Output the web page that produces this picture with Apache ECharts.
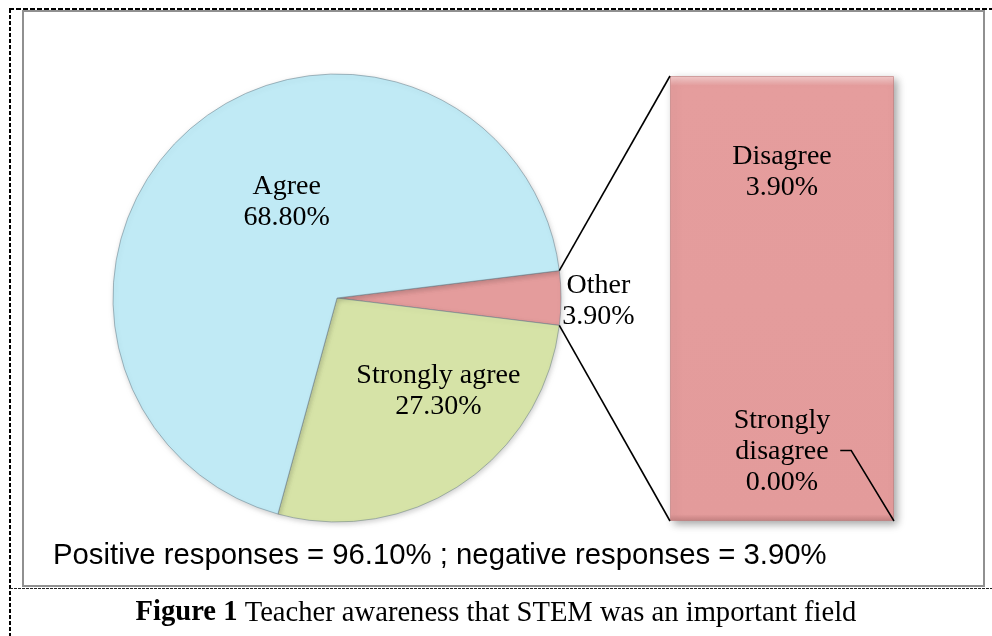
<!DOCTYPE html>
<html><head><meta charset="utf-8">
<script src="https://cdn.jsdelivr.net/npm/echarts@6/dist/echarts.min.js"></script>
<style>html,body{margin:0;padding:0;background:#fff}#c{width:992px;height:636px}</style>
</head><body><div id="c"></div>
<script>
// ---- data ----
const pieNames = ['Other', 'Strongly agree', 'Agree'];
const pieValues = [3.9, 27.3, 68.8];
const barNames = ['Strongly disagree', 'Disagree'];
const barValues = [0.0, 3.9];
const noteText = 'Positive responses = 96.10% ; negative responses = 3.90%';
const captionBold = 'Figure 1';
const captionRest = ' Teacher awareness that STEM was an important field';

// ---- styles ----
const pieColors = ['#E49C9C', '#D6E3A7', '#C0EAF5'];
const barColor = '#E59D9D';
const serif = '"Liberation Serif", "Times New Roman", serif';
const sans = '"Liberation Sans", Arial, sans-serif';

const pieTotal = pieValues.reduce((a, b) => a + b, 0);
const barTotal = barValues.reduce((a, b) => a + b, 0);
const pct = v => v.toFixed(2) + '%';

const chart = echarts.init(document.getElementById('c'), null, {renderer: 'canvas'});

// label nudges relative to the mid-radius point of each slice
const labelShift = {1: [39, 0], 2: [23, -11]};
let sdLabel = null;

chart.setOption({
  animation: false,
  backgroundColor: '#fff',
  grid: {left: 670, top: 76, width: 224, height: 445},
  xAxis: {type: 'category', data: ['Other'], show: false},
  yAxis: {type: 'value', min: 0, max: barTotal, show: false},
  series: [
    {
      type: 'pie',
      center: [337, 298],
      radius: 224,
      startAngle: pieValues[0] / pieTotal * 180,
      clockwise: true,
      avoidLabelOverlap: false,
      data: pieNames.map((n, i) => ({name: n, value: pieValues[i], itemStyle: {color: pieColors[i]}})),
      itemStyle: {borderColor: 'rgba(110,130,140,0.55)', borderWidth: 1, shadowBlur: 5, shadowColor: 'rgba(0,0,0,0.18)', shadowOffsetX: 1, shadowOffsetY: 2},
      label: {
        show: true, position: 'inside',
        formatter: p => p.name + '\n' + pct(p.value),
        fontFamily: serif, fontSize: 28, lineHeight: 31, color: '#000', align: 'center'
      },
      labelLine: {show: false},
      labelLayout: function (p) {
        if (p.dataIndex === 0) {
          return {x: p.rect.x + p.rect.width + 37, y: p.rect.y + p.rect.height / 2 + 3, align: 'center', verticalAlign: 'middle'};
        }
        const L = chart.getModel().getSeriesByIndex(0).getData().getItemLayout(p.dataIndex);
        const mid = (L.startAngle + L.endAngle) / 2, rr = (L.r + (L.r0 || 0)) / 2;
        const s = labelShift[p.dataIndex];
        return {x: L.cx + rr * Math.cos(mid) + s[0], y: L.cy + rr * Math.sin(mid) + s[1], align: 'center', verticalAlign: 'middle'};
      },
      emphasis: {disabled: true}
    },
    {
      type: 'bar', name: barNames[0], stack: 'rest', data: [barValues[0]],
      barWidth: '100%', barCategoryGap: '0%',
      itemStyle: {color: barColor},
      label: {
        show: true, position: 'top', distance: 23,
        formatter: p => 'Strongly\ndisagree\n' + pct(p.value),
        fontFamily: serif, fontSize: 28, lineHeight: 31, color: '#000', align: 'center'
      },
      labelLayout: function (p) {
        sdLabel = p.labelRect;
        return {};
      },
      z: 3,
      emphasis: {disabled: true}
    },
    {
      type: 'bar', name: barNames[1], stack: 'rest', data: [barValues[1]],
      barWidth: '100%', barCategoryGap: '0%',
      itemStyle: {
        color: {type: 'linear', x: 0, y: 0, x2: 0, y2: 1, colorStops: [
          {offset: 0, color: '#F4CDCD'}, {offset: 0.022, color: '#E59D9D'},
          {offset: 0.985, color: '#E39B9B'}, {offset: 1, color: '#C58282'}]},
        borderColor: 'rgba(190,120,120,0.6)', borderWidth: 1,
        shadowBlur: 8, shadowColor: 'rgba(0,0,0,0.35)', shadowOffsetX: 3, shadowOffsetY: 3
      },
      label: {
        show: true, position: 'insideTop', distance: 65,
        formatter: p => p.seriesName + '\n' + pct(p.value),
        fontFamily: serif, fontSize: 28, lineHeight: 31, color: '#000', align: 'center'
      },
      z: 2,
      emphasis: {disabled: true}
    }
  ],
  graphic: [
    {id: 'frame', type: 'rect', z: -1, shape: {x: 23, y: 11, width: 961, height: 575}, style: {fill: 'none', stroke: '#909090', lineWidth: 2}},
    {id: 'dashTop', type: 'line', shape: {x1: 9, y1: 9, x2: 992, y2: 9}, style: {stroke: '#000', lineWidth: 2, lineDash: [5, 2]}},
    {id: 'dashLeft', type: 'line', shape: {x1: 10, y1: 9, x2: 10, y2: 636}, style: {stroke: '#000', lineWidth: 2, lineDash: [4, 2]}},
    {id: 'dashBottom', type: 'line', shape: {x1: 10, y1: 588.5, x2: 992, y2: 588.5}, style: {stroke: '#222', lineWidth: 1, lineDash: [3, 1]}},
    {id: 'note', type: 'text', x: 53, y: 556, style: {text: noteText, font: '29.3px ' + sans, fill: '#000', textVerticalAlign: 'middle'}},
    {id: 'caption', type: 'text', x: 496, y: 613, style: {
      text: '{b|' + captionBold + '}{n|' + captionRest + '}',
      align: 'center', verticalAlign: 'middle',
      rich: {b: {fontFamily: serif, fontSize: 28.6, fontWeight: 'bold', fill: '#000'}, n: {fontFamily: serif, fontSize: 28.6, fill: '#000'}}
    }}
  ]
});

// connector lines from the "Other" slice to the stacked bar, and the leader line
(function () {
  const model = chart.getModel();
  const pl = model.getSeriesByIndex(0).getData().getItemLayout(0);
  const p1 = [pl.cx + pl.r * Math.cos(pl.startAngle), pl.cy + pl.r * Math.sin(pl.startAngle)];
  const p2 = [pl.cx + pl.r * Math.cos(pl.endAngle), pl.cy + pl.r * Math.sin(pl.endAngle)];
  const topP = p1[1] < p2[1] ? p1 : p2, botP = p1[1] < p2[1] ? p2 : p1;
  const b0 = model.getSeriesByIndex(1).getData().getItemLayout(0);
  const b1 = model.getSeriesByIndex(2).getData().getItemLayout(0);
  const barLeft = Math.min(b1.x, b1.x + b1.width);
  const barRight = Math.max(b1.x, b1.x + b1.width);
  const barTop = Math.min(b1.y, b1.y + b1.height, b0.y, b0.y + b0.height);
  const barBottom = Math.max(b1.y, b1.y + b1.height, b0.y, b0.y + b0.height);
  const els = [
    {id: 'connTop', type: 'line', z: 10, shape: {x1: topP[0], y1: topP[1], x2: barLeft, y2: barTop}, style: {stroke: '#000', lineWidth: 1.6}},
    {id: 'connBot', type: 'line', z: 10, shape: {x1: botP[0], y1: botP[1], x2: barLeft, y2: barBottom}, style: {stroke: '#000', lineWidth: 1.6}}
  ];
  if (sdLabel) {
    const sx = sdLabel.x + sdLabel.width + 10, sy = sdLabel.y + sdLabel.height / 2 - 1;
    els.push({id: 'leader', type: 'polyline', z: 10, shape: {points: [[sx, sy], [sx + 11, sy], [barRight, barBottom]]},
      style: {stroke: '#000', lineWidth: 1.5, fill: 'none'}});
  }
  chart.setOption({graphic: els});
})();
</script>
</body></html>
